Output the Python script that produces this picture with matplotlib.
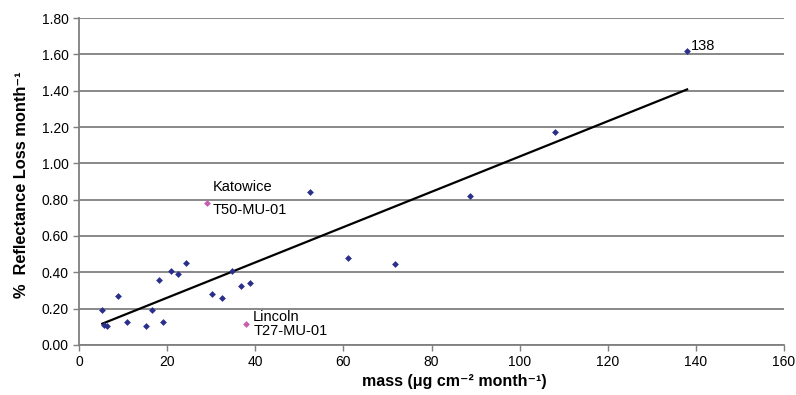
import numpy as np
import matplotlib
matplotlib.use("Agg")
import matplotlib.pyplot as plt

plt.rcParams['font.family'] = ['Liberation Sans', 'DejaVu Sans']

# Site measurements: deposited mass vs. reflectance loss
mass = [5.3, 5.7, 6.3, 8.9, 10.9, 15.2, 16.6, 18.2, 19.1, 20.9, 22.4, 24.4,
        30.2, 32.5, 34.8, 36.8, 38.8, 52.4, 61.0, 71.7, 88.7, 108.0, 138.0]
loss = [0.19, 0.11, 0.105, 0.27, 0.125, 0.105, 0.19, 0.36, 0.125, 0.41, 0.39,
        0.45, 0.28, 0.26, 0.41, 0.325, 0.34, 0.84, 0.48, 0.447, 0.82, 1.17, 1.62]

# Highlighted sites
hl_mass = [29.0, 37.8]
hl_loss = [0.78, 0.115]
hl_names = ["Katowice", "Lincoln"]
hl_codes = ["T50-MU-01", "T27-MU-01"]

x_ticks = [0, 20, 40, 60, 80, 100, 120, 140, 160]
y_ticks = [0.0, 0.2, 0.4, 0.6, 0.8, 1.0, 1.2, 1.4, 1.6, 1.8]

fig = plt.figure(figsize=(7.96, 3.95), dpi=100)
ax = fig.add_axes([0.0992, 0.1266, 0.8858, 0.8278])

ax.set_xlim(0, 160)
ax.set_ylim(0, 1.8)
ax.set_xticks(x_ticks)
ax.set_yticks(y_ticks)
ax.set_yticklabels([f"{v:.2f}" for v in y_ticks])

ax.yaxis.grid(True, color='#7f7f7f', linewidth=1.3)
ax.set_axisbelow(True)
for s in ['top', 'right']:
    ax.spines[s].set_visible(False)
for s in ['left', 'bottom']:
    ax.spines[s].set_color('#7f7f7f')
    ax.spines[s].set_linewidth(1.3)
ax.tick_params(axis='both', direction='out', length=4, width=1.0,
               color='#7f7f7f', labelsize=10, labelcolor='black')

# Linear trend over all sites
all_x = np.array(mass + hl_mass)
all_y = np.array(loss + hl_loss)
k, b = np.polyfit(all_x, all_y, 1)
xs = np.array([all_x.min(), all_x.max()])
ax.plot(xs, k * xs + b, color='black', linewidth=1.6, zorder=2)

ax.scatter(mass, loss, marker='D', s=12, color='#2b2f8c', linewidths=0, zorder=3)
ax.scatter(hl_mass, hl_loss, marker='D', s=12, color='#c85fae', linewidths=0, zorder=3)

ax.annotate("138", (mass[-1], loss[-1]), xytext=(3, 3.5), textcoords='offset points',
            fontsize=10.5, va='center', ha='left')
ax.annotate(hl_names[0], (hl_mass[0], hl_loss[0]), xytext=(4, 11.5),
            textcoords='offset points', fontsize=10.5, va='center', ha='left')
ax.annotate(hl_codes[0], (hl_mass[0], hl_loss[0]), xytext=(4.5, -5),
            textcoords='offset points', fontsize=10.5, va='center', ha='left')
ax.annotate(hl_names[1], (hl_mass[1], hl_loss[1]), xytext=(5.5, 5),
            textcoords='offset points', fontsize=10.5, va='center', ha='left')
ax.annotate(hl_codes[1], (hl_mass[1], hl_loss[1]), xytext=(5.5, -5),
            textcoords='offset points', fontsize=10.5, va='center', ha='left')

ax.set_xlabel("mass (μg cm⁻² month⁻¹)", fontsize=11.5, fontweight='bold', va='top')
ax.xaxis.set_label_coords(0.533, -0.090)
ax.set_ylabel("%  Reflectance Loss month⁻¹", fontsize=11.8,
              fontweight='bold', va='center')
ax.yaxis.set_label_coords(-0.082, 0.49)

fig.savefig("out.png", dpi=100)
